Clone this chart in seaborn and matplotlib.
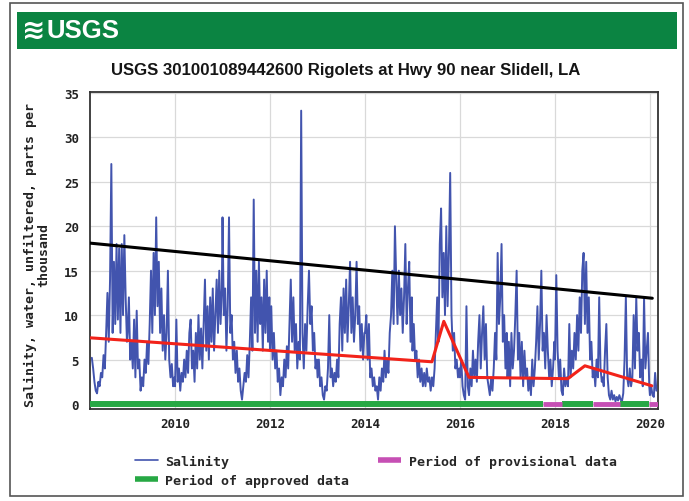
import numpy as np
import pandas as pd
import matplotlib
matplotlib.use("Agg")
import matplotlib.pyplot as plt
from matplotlib.patches import Rectangle
from matplotlib.lines import Line2D
from matplotlib.font_manager import FontProperties
import seaborn as sns

# ---------------- data ----------------
title = "USGS 301001089442600 Rigolets at Hwy 90 near Slidell, LA"
y_label = "Salinity, water, unfiltered, parts per\nthousand"
x_tick_years = [2010, 2012, 2014, 2016, 2018, 2020]
y_ticks = [0, 5, 10, 15, 20, 25, 30, 35]

# salinity, one reading every 10 days (2008 starts 1 April, others 1 January)
sal_2008 = [5.2, 4.0, 2.5, 1.5, 1.2, 2.5, 2.0, 3.5, 3.0, 5.5, 4.0, 8.0, 12.5, 7.0,
            14.0, 27.0, 8.0, 16.0, 9.0, 18.0, 9.5, 17.5, 8.0, 18.0, 10.0, 19.0, 12.0, 7.0]
sal_2009 = [8, 12, 5, 7, 4, 9.5, 3, 10.5, 4, 5, 1.5, 3, 2, 5, 3.5, 7, 4.5, 9, 15, 8,
            17, 10, 21, 11, 16, 8, 13, 6, 10, 5, 8, 15, 5, 3, 4.5, 2, 3]
sal_2010 = [2, 9.5, 2.5, 4, 1.5, 3.5, 2.5, 5, 3, 6, 3.5, 8, 9.5, 4, 6, 2.5, 8, 4, 10, 5,
            8.5, 4, 9, 14, 6, 11, 5, 12, 7, 13, 6, 10, 14, 8, 15, 9, 13]
sal_2011 = [21, 10, 13, 6, 11, 21, 8, 10, 5, 7, 3.5, 6, 2.5, 4, 1.5, 0.5, 2, 3.5, 2.5, 5.5,
            3, 7, 12, 6, 23, 8, 15, 7, 16, 9, 12, 6, 14, 8, 15, 7, 12]
sal_2012 = [6, 11, 5, 8, 4, 6, 2.5, 4, 1, 3, 2, 5, 3, 6.5, 4, 9, 14, 7, 12, 6,
            9, 4, 7, 5, 33, 8, 4, 9, 6, 11, 15, 9, 11, 6, 8, 4, 5]
sal_2013 = [3, 5, 2, 3, 1, 0.5, 2, 1.5, 4, 10, 3, 4, 2, 3.5, 2.5, 5, 3, 9, 12, 6,
            13, 8, 14, 7, 11, 16, 8, 12, 7, 10, 16, 9, 11, 6, 9, 5, 8]
sal_2014 = [8, 10, 5, 9, 3, 4, 2, 3, 1.5, 2, 0.5, 3, 1.5, 4, 2.5, 6, 3, 5, 3.5, 8,
            10, 15, 9, 20, 14, 9, 15, 10, 13, 8, 12, 18, 9, 13, 16, 7, 12]
sal_2015 = [6, 9, 5, 6, 3, 5, 2.5, 4, 2, 3.5, 2, 4, 2.5, 3, 1.5, 3, 2, 4, 8, 12,
            7, 18, 22, 12, 17, 10, 20, 11, 17, 26, 10, 6, 8, 4, 5, 3, 4]
sal_2016 = [3, 5, 2, 1, 0.5, 11, 2, 1, 4, 2, 6, 3, 5, 2.5, 7, 10, 4, 8, 11, 5,
            9, 3, 2, 1, 3, 1.5, 4, 8, 5, 17, 9, 12, 18, 7, 10, 4, 8]
sal_2017 = [3, 7, 2, 8, 4, 6, 10, 15, 5, 8, 3, 7, 2, 6, 3, 4, 1.5, 3, 1, 5,
            2, 4, 7, 11, 5, 9, 15, 6, 8, 4, 10, 6, 3, 5, 2, 4, 7]
sal_2018 = [5, 14.5, 6, 3, 5, 1.5, 1, 4, 2, 3, 2, 9, 3, 6, 4, 8, 5, 10, 6, 12,
            8, 15, 17, 9, 16, 8, 12, 5, 7, 3, 4, 2, 5, 3, 12, 4, 2.5]
sal_2019 = [3, 2, 6, 9, 3, 1, 0.5, 1.5, 0.5, 1, 0.3, 0.8, 0.4, 1, 0.5, 0.3, 1.2, 5, 12, 3,
            2, 4, 2, 3, 10, 4, 12, 6, 8, 3, 5, 2, 12, 4, 6, 8, 2]
sal_2020 = [1, 2, 1, 0.8, 3.5, 1.5]

# trend lines (decimal years, ppt)
black_years = [2008.21, 2020.05]
black_vals = [18.1, 11.9]
red_years = [2008.21, 2015.41, 2015.66, 2016.19, 2018.27, 2018.63, 2020.04]
red_vals = [7.45, 4.75, 9.3, 3.0, 2.85, 4.3, 2.05]

# data-status periods (decimal years)
approved_periods = [(2008.21, 2017.75), (2018.15, 2018.80), (2019.37, 2019.98)]
provisional_periods = [(2017.75, 2018.15), (2018.80, 2019.37), (2019.98, 2020.17)]


def dec2date(y):
    yr = int(y)
    s = pd.Timestamp(yr, 1, 1)
    e = pd.Timestamp(yr + 1, 1, 1)
    return s + (e - s) * (y - yr)


series = [("2008-04-01", sal_2008), ("2009-01-01", sal_2009), ("2010-01-01", sal_2010),
          ("2011-01-01", sal_2011), ("2012-01-01", sal_2012), ("2013-01-01", sal_2013),
          ("2014-01-01", sal_2014), ("2015-01-01", sal_2015), ("2016-01-01", sal_2016),
          ("2017-01-01", sal_2017), ("2018-01-01", sal_2018), ("2019-01-01", sal_2019),
          ("2020-01-01", sal_2020)]
frames = []
for start, vals in series:
    frames.append(pd.DataFrame({"date": pd.date_range(start, periods=len(vals), freq="10D"),
                                "salinity": vals}))
df = pd.concat(frames, ignore_index=True)

black_df = pd.DataFrame({"date": [dec2date(v) for v in black_years], "val": black_vals})
red_df = pd.DataFrame({"date": [dec2date(v) for v in red_years], "val": red_vals})

# ---------------- style ----------------
sns.set_theme(style="white")
plt.rcParams["font.family"] = ["DejaVu Sans"]

W, H = 689, 502
fig = plt.figure(figsize=(W / 100, H / 100), dpi=100)
fig.patch.set_facecolor("white")

mono = FontProperties(family="DejaVu Sans Mono", weight="bold", size=9)
mono_lab = FontProperties(family="DejaVu Sans Mono", weight="bold", size=9.5)

# outer frame
fig.add_artist(Rectangle((10 / W, 1 - 497 / H), 673 / W, 493 / H, fill=False,
                         ec="#555555", lw=1.2, transform=fig.transFigure))
# banner
fig.add_artist(Rectangle((17 / W, 1 - 50 / H), 660 / W, 37 / H, fc="#0B8442",
                         ec="none", transform=fig.transFigure))
fig.text(22 / W, 1 - 31 / H, "\u224B", color="white", fontsize=20, fontweight="bold",
         va="center", ha="left", family=["DejaVu Sans"])
fig.text(46 / W, 1 - 31 / H, "USGS", color="white", fontsize=18.5, fontweight="bold",
         va="center", ha="left", family=["Liberation Sans", "DejaVu Sans"])
# title
fig.text(346 / W, 1 - 70 / H, title, fontsize=12.1, ha="center", va="center",
         family=["Liberation Sans", "DejaVu Sans"], fontweight="bold", color="#151515")

ax = fig.add_axes([90 / W, 1 - 410 / H, 568 / W, 317 / H])
ax.set_facecolor("white")

blue = "#4254AE"
sns.lineplot(data=df, x="date", y="salinity", ax=ax, color=blue, lw=1.4,
             estimator=None, zorder=3)
sns.lineplot(data=black_df, x="date", y="val", ax=ax, color="black", lw=2.2,
             estimator=None, zorder=4)
sns.lineplot(data=red_df, x="date", y="val", ax=ax, color="#F2231A", lw=2.2,
             estimator=None, zorder=4)

green = "#27A844"
magenta = "#C64FB4"
for a, b in approved_periods:
    ax.plot([dec2date(a), dec2date(b)], [0, 0], color=green, lw=4.3,
            solid_capstyle="butt", zorder=5)
for a, b in provisional_periods:
    ax.plot([dec2date(a), dec2date(b)], [0, 0], color=magenta, lw=3.5,
            solid_capstyle="butt", zorder=5)

ax.set_xlim(dec2date(2008.21), dec2date(2020.17))
ax.set_ylim(-0.56, 35.1)
ax.set_xticks([pd.Timestamp(y, 1, 1) for y in x_tick_years])
ax.set_xticklabels([str(y) for y in x_tick_years])
ax.set_yticks(y_ticks)
ax.set_yticklabels([str(v) for v in y_ticks])
for lab in ax.get_xticklabels() + ax.get_yticklabels():
    lab.set_fontproperties(mono)
    lab.set_color("#222222")
ax.tick_params(axis="both", length=0)
ax.tick_params(axis="x", pad=6)
ax.tick_params(axis="y", pad=8)
ax.set_xlabel("")
ax.set_ylabel("")
ax.grid(True, color="#d9d9d9", lw=0.9, zorder=0)
ax.set_axisbelow(True)
for s in ax.spines.values():
    s.set_color("#333333")
    s.set_linewidth(1.3)
    s.set_visible(True)

fig.text(37 / W, 1 - 255 / H, y_label, rotation=90, ha="center", va="center",
         multialignment="center", fontproperties=mono_lab, color="#222222",
         linespacing=1.05)

# legend
h_sal = Line2D([], [], color=blue, lw=1.2)
h_app = Line2D([], [], color=green, lw=4, solid_capstyle="butt")
h_prov = Line2D([], [], color=magenta, lw=4, solid_capstyle="butt")
fig.legend([h_sal, h_app, h_prov],
           ["Salinity", "Period of approved data", "Period of provisional data"],
           ncol=2, loc="upper left", bbox_to_anchor=(135 / W, 1 - 456 / H),
           frameon=False, prop=mono_lab, handlelength=1.75, handletextpad=0.55,
           columnspacing=2.2, labelspacing=0.45, borderpad=0, borderaxespad=0)

fig.savefig("out.png", dpi=100, facecolor="white")
